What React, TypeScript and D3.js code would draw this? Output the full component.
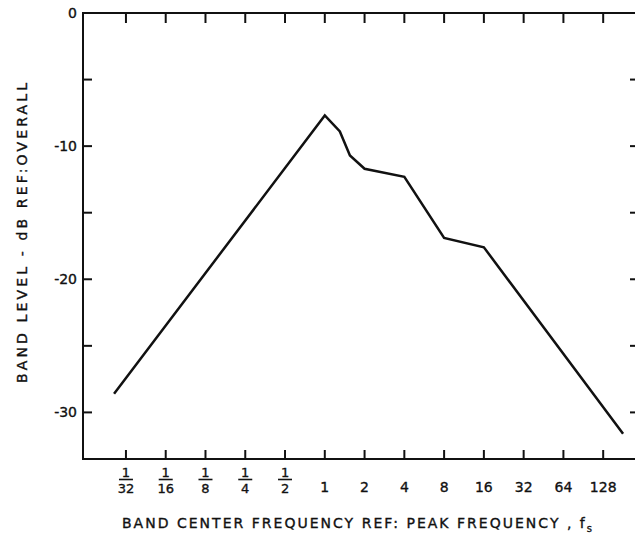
import * as d3 from 'd3'

// frequency ratio f / fs, band level dB re overall
const freqRatio = [0.0254, 1, 1.3, 1.55, 2, 4, 8, 16, 181]
const bandLevel = [-28.6, -7.7, -8.9, -10.7, -11.7, -12.3, -16.9, -17.6, -31.6]

const xTickValues = [1 / 32, 1 / 16, 1 / 8, 1 / 4, 1 / 2, 1, 2, 4, 8, 16, 32, 64, 128]
const xTickLabels = ['1/32', '1/16', '1/8', '1/4', '1/2', '1', '2', '4', '8', '16', '32', '64', '128']
const yTickValues = [0, -5, -10, -15, -20, -25, -30]
const yTickLabels = ['0', '', '-10', '', '-20', '', '-30']

const W = 635
const H = 539
const M = { top: 13, right: 0, bottom: 80, left: 83 }
const FONT = '"DejaVu Sans", sans-serif'
const INK = '#111'

export default function App() {
  const x = d3.scaleLog().base(2)
    .domain([Math.pow(2, -6.08), Math.pow(2, 7.8)])
    .range([M.left, W - M.right])
  const y = d3.scaleLinear()
    .domain([-33.5, 0])
    .range([H - M.bottom, M.top])

  const pts: [number, number][] = freqRatio.map((f, i) => [f, bandLevel[i]])
  const line = d3.line<[number, number]>()
    .x(d => x(d[0]))
    .y(d => y(d[1]))

  const x0 = M.left
  const x1 = W - M.right
  const yTop = y(0)
  const yBot = H - M.bottom

  // lettering in the scan is a bit heavier than the regular face
  const ink = { fill: INK, stroke: INK, strokeWidth: 0.35 }

  return (
    <svg width={W} height={H} style={{ position: 'absolute', left: 0, top: 0, background: '#fff' }}
      fontFamily={FONT}>
      {/* frame */}
      <path d={`M${x1},${yTop}H${x0}V${yBot}H${x1}`} fill="none" stroke={INK} strokeWidth={2} />

      {/* x ticks, top and bottom */}
      {xTickValues.map((v, i) => (
        <g key={'xt' + i}>
          <line x1={x(v)} x2={x(v)} y1={yTop} y2={yTop + 10} stroke={INK} strokeWidth={2} />
          <line x1={x(v)} x2={x(v)} y1={yBot} y2={yBot - 9} stroke={INK} strokeWidth={2} />
        </g>
      ))}

      {/* x tick labels */}
      {xTickLabels.map((lab, i) => {
        const cx = x(xTickValues[i])
        if (lab.includes('/')) {
          const [num, den] = lab.split('/')
          return (
            <g key={'xl' + i} textAnchor="middle" fontSize={13}>
              <text x={cx} y={477} {...ink}>{num}</text>
              <line x1={cx - 7} x2={cx + 7} y1={479.5} y2={479.5} stroke={INK} strokeWidth={1.6} />
              <text x={cx} y={493} {...ink}>{den}</text>
            </g>
          )
        }
        return (
          <text key={'xl' + i} x={cx} y={492} textAnchor="middle" fontSize={14} {...ink}>{lab}</text>
        )
      })}

      {/* y ticks left and right */}
      {yTickValues.map((v, i) => (
        <g key={'yt' + i}>
          {v !== 0 && <line x1={x0} x2={x0 + 9} y1={y(v)} y2={y(v)} stroke={INK} strokeWidth={2} />}
          {v !== 0 && <line x1={x1} x2={x1 - 5} y1={y(v)} y2={y(v)} stroke={INK} strokeWidth={2} />}
          {yTickLabels[i] && (
            <text x={77} y={y(v)} dy="0.36em" textAnchor="end" fontSize={14} {...ink}>
              {yTickLabels[i]}
            </text>
          )}
        </g>
      ))}

      {/* data */}
      <path d={line(pts) || ''} fill="none" stroke={INK} strokeWidth={2.5} strokeLinejoin="miter" />

      {/* axis titles */}
      <text x={122} y={528} fontSize={14} {...ink} textLength={470} lengthAdjust="spacing">
        BAND CENTER FREQUENCY REF: PEAK FREQUENCY , f<tspan fontSize={10} dy={4}>s</tspan>
      </text>
      <text transform="translate(27,383) rotate(-90)" x={0} y={0} fontSize={14} {...ink}
        textLength={300} lengthAdjust="spacing">
        BAND LEVEL - dB REF:OVERALL
      </text>
    </svg>
  )
}
